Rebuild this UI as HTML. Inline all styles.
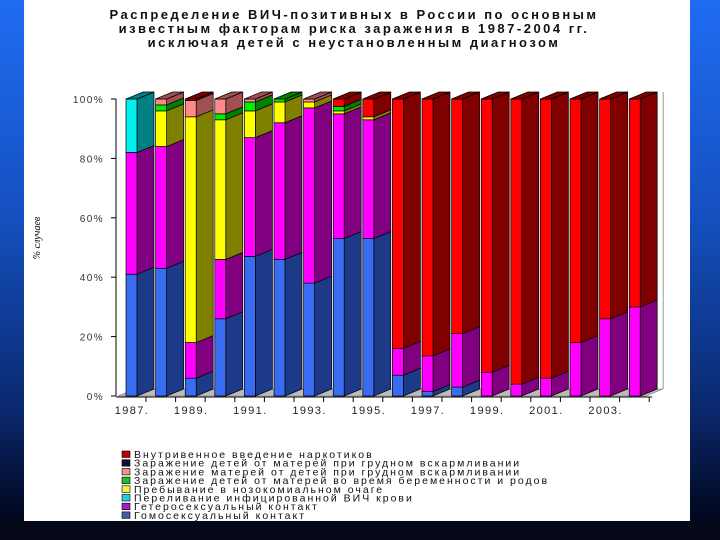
<!DOCTYPE html>
<html><head><meta charset="utf-8"><style>
html,body{margin:0;padding:0}
body{width:720px;height:540px;overflow:hidden;background:linear-gradient(180deg,#1f6cf2 0%,#1550c0 40%,#0a2a70 75%,#000010 100%);position:relative;font-family:"Liberation Sans","DejaVu Sans",sans-serif}
#panel{position:absolute;left:24px;top:0;width:666px;height:521px;background:#fff}
#bottom{position:absolute;left:0;top:521px;width:720px;height:19px;background:#050818}
</style></head><body>
<div id="panel"></div>
<div id="bottom"></div>
<svg id="chart" width="720" height="540" style="position:absolute;left:0;top:0">
<g font-weight="bold" font-size="13" text-anchor="middle" fill="#111" letter-spacing="2.5">
<text x="354" y="19">Распределение ВИЧ-позитивных в России по основным</text>
<text x="354" y="33">известным факторам риска заражения в 1987-2004 гг.</text>
<text x="354" y="47">исключая детей с неустановленным диагнозом</text>
</g>
<text transform="translate(40,238) rotate(-90)" font-family="Liberation Serif,serif" font-style="italic" font-size="10" text-anchor="middle">% случаев</text>
<g id="plot"></g>
<g id="legend"></g>
</svg>
<script>
const years=["1987","1988","1989","1990","1991","1992","1993","1994","1995","1996","1997","1998","1999","2000","2001","2002","2003","2004"];
const homo=[41,43,6,26,47,46,38,53,53,7,1.5,3,0,0,0,0,0,0];
const hetero=[41,41,12,20,40,46,59,42,40,9,12,18,8,4,6,18,26,30];
const transf=[18,0,0,0,0,0,0,0,0,0,0,0,0,0,0,0,0,0];
const nosoc=[0,12,76,47,9,7,2,1,1,0,0,0,0,0,0,0,0,0];
const vert=[0,2,0,2,3,1,0,1.5,0,0,0,0,0,0,0,0,0,0];
const mothers=[0,2,5.5,5,1,0,1,0,0,0,0,0,0,0,0,0,0,0];
const breast=[0,0,0,0,0,0,0,0,0,0,0,0,0,0,0,0,0,0];
const idu=[0,0,0.5,0,0,0,0,2.5,6,84,86.5,79,92,96,94,82,74,70];
const yTicks=["0%","20%","40%","60%","80%","100%"];
const legendLabels=["Внутривенное введение наркотиков","Заражение детей от матерей при грудном вскармливании","Заражение матерей от детей при грудном вскармливании","Заражение детей от матерей во время беременности и родов","Пребывание в нозокомиальном очаге","Переливание инфицированной ВИЧ крови","Гетеросексуальный контакт","Гомосексуальный контакт"];
const series=[
 {v:homo,f:"#3a6cf2",s:"#1c3a88",n:"homosexual"},
 {v:hetero,f:"#ff00ff",s:"#800080",n:"heterosexual"},
 {v:transf,f:"#00f0f0",s:"#008080",n:"transfusion"},
 {v:nosoc,f:"#ffff00",s:"#808000",n:"nosocomial"},
 {v:vert,f:"#00ee00",s:"#008000",n:"vertical"},
 {v:mothers,f:"#ff8888",s:"#a05050",n:"mothers-infected"},
 {v:breast,f:"#102060",s:"#081030",n:"breastfeeding"},
 {v:idu,f:"#ff0000",s:"#800000",n:"idu"}];
const legendColors=["#c00000","#101030","#f09090","#20c020","#f0f040","#20d0e0","#a020c0","#4060a0"];
const NS="http://www.w3.org/2000/svg";
const plot=document.getElementById('plot');
const y0=396,y1=99,x0=126,pitch=29.6,bw=11,dx=17,dy=7;
function yS(p){return y0-(y0-y1)*p/100;}
function xS(i){return x0+i*pitch;}
function mk(tag,attrs,parent){const e=document.createElementNS(NS,tag);for(const k in attrs)e.setAttribute(k,attrs[k]);(parent||plot).appendChild(e);return e;}
const fl=mk('polygon',{points:`${x0-8},${y0} ${x0-8+dx},${y0-dy} ${xS(17)+bw+dx+6},${y0-dy} ${xS(17)+bw+6},${y0}`,fill:"#bbb",stroke:"#777","stroke-width":0.6});


const wall=mk('line',{x1:xS(17)+bw+dx+6,y1:y1-dy,x2:xS(17)+bw+dx+6,y2:y0-dy,stroke:"#999","stroke-width":1});


const ax=mk('line',{x1:116,y1:y1,x2:116,y2:y0,stroke:"#000","stroke-width":1});


const xax=mk('line',{x1:116,y1:y0+1,x2:xS(17)+bw+12,y2:y0+1,stroke:"#000","stroke-width":1});


yTicks.forEach((t,i)=>{const y=yS(i*20);
 mk('line',{x1:111,y1:y,x2:116,y2:y,stroke:"#000"});
 const tx=mk('text',{x:104,y:y+4,"font-size":10,"letter-spacing":1.4,"text-anchor":"end",fill:"#333"});tx.textContent=t;
 
 });
years.forEach((yr,i)=>{
 const x=xS(i);
 mk('line',{x1:x+bw+9,y1:y0+1,x2:x+bw+9,y2:y0+6,stroke:"#000"});
 if(i%2===0){const tx=mk('text',{x:x+6,y:y0+18,"font-size":11,"letter-spacing":1.4,"text-anchor":"middle",fill:"#222"});tx.textContent=yr+".";
 
 }
 let acc=0;let last=null;
 series.forEach(s=>{const v=s.v[i];if(v<=0)return;
  const yb=yS(acc),yt=yS(acc+v);acc+=v;
  const g=mk('g',{});
  
  
  mk('polygon',{points:`${x+bw},${yt} ${x+bw+dx},${yt-dy} ${x+bw+dx},${yb-dy} ${x+bw},${yb}`,fill:s.s,stroke:"#000","stroke-width":0.7},g);
  mk('rect',{x:x,y:yt,width:bw,height:yb-yt,fill:s.f,stroke:"#000","stroke-width":0.7},g);
  last={s,yt};});
 if(last){const t=mk('polygon',{points:`${x},${last.yt} ${x+dx},${last.yt-dy} ${x+bw+dx},${last.yt-dy} ${x+bw},${last.yt}`,fill:last.s.s,stroke:"#000","stroke-width":0.7});
  
  }
});
const lg=document.getElementById('legend');
legendLabels.forEach((l,i)=>{const y=458+i*8.7;
 const g=mk('g',{},lg);
 
 
 mk('rect',{x:122,y:y-7,width:8,height:6.5,fill:legendColors[i],stroke:"#000","stroke-width":0.6},g);
 const t=mk('text',{x:134,y:y,"font-size":10.5,fill:"#111","letter-spacing":"2"},g);t.textContent=l;});
</script>
</body></html>
